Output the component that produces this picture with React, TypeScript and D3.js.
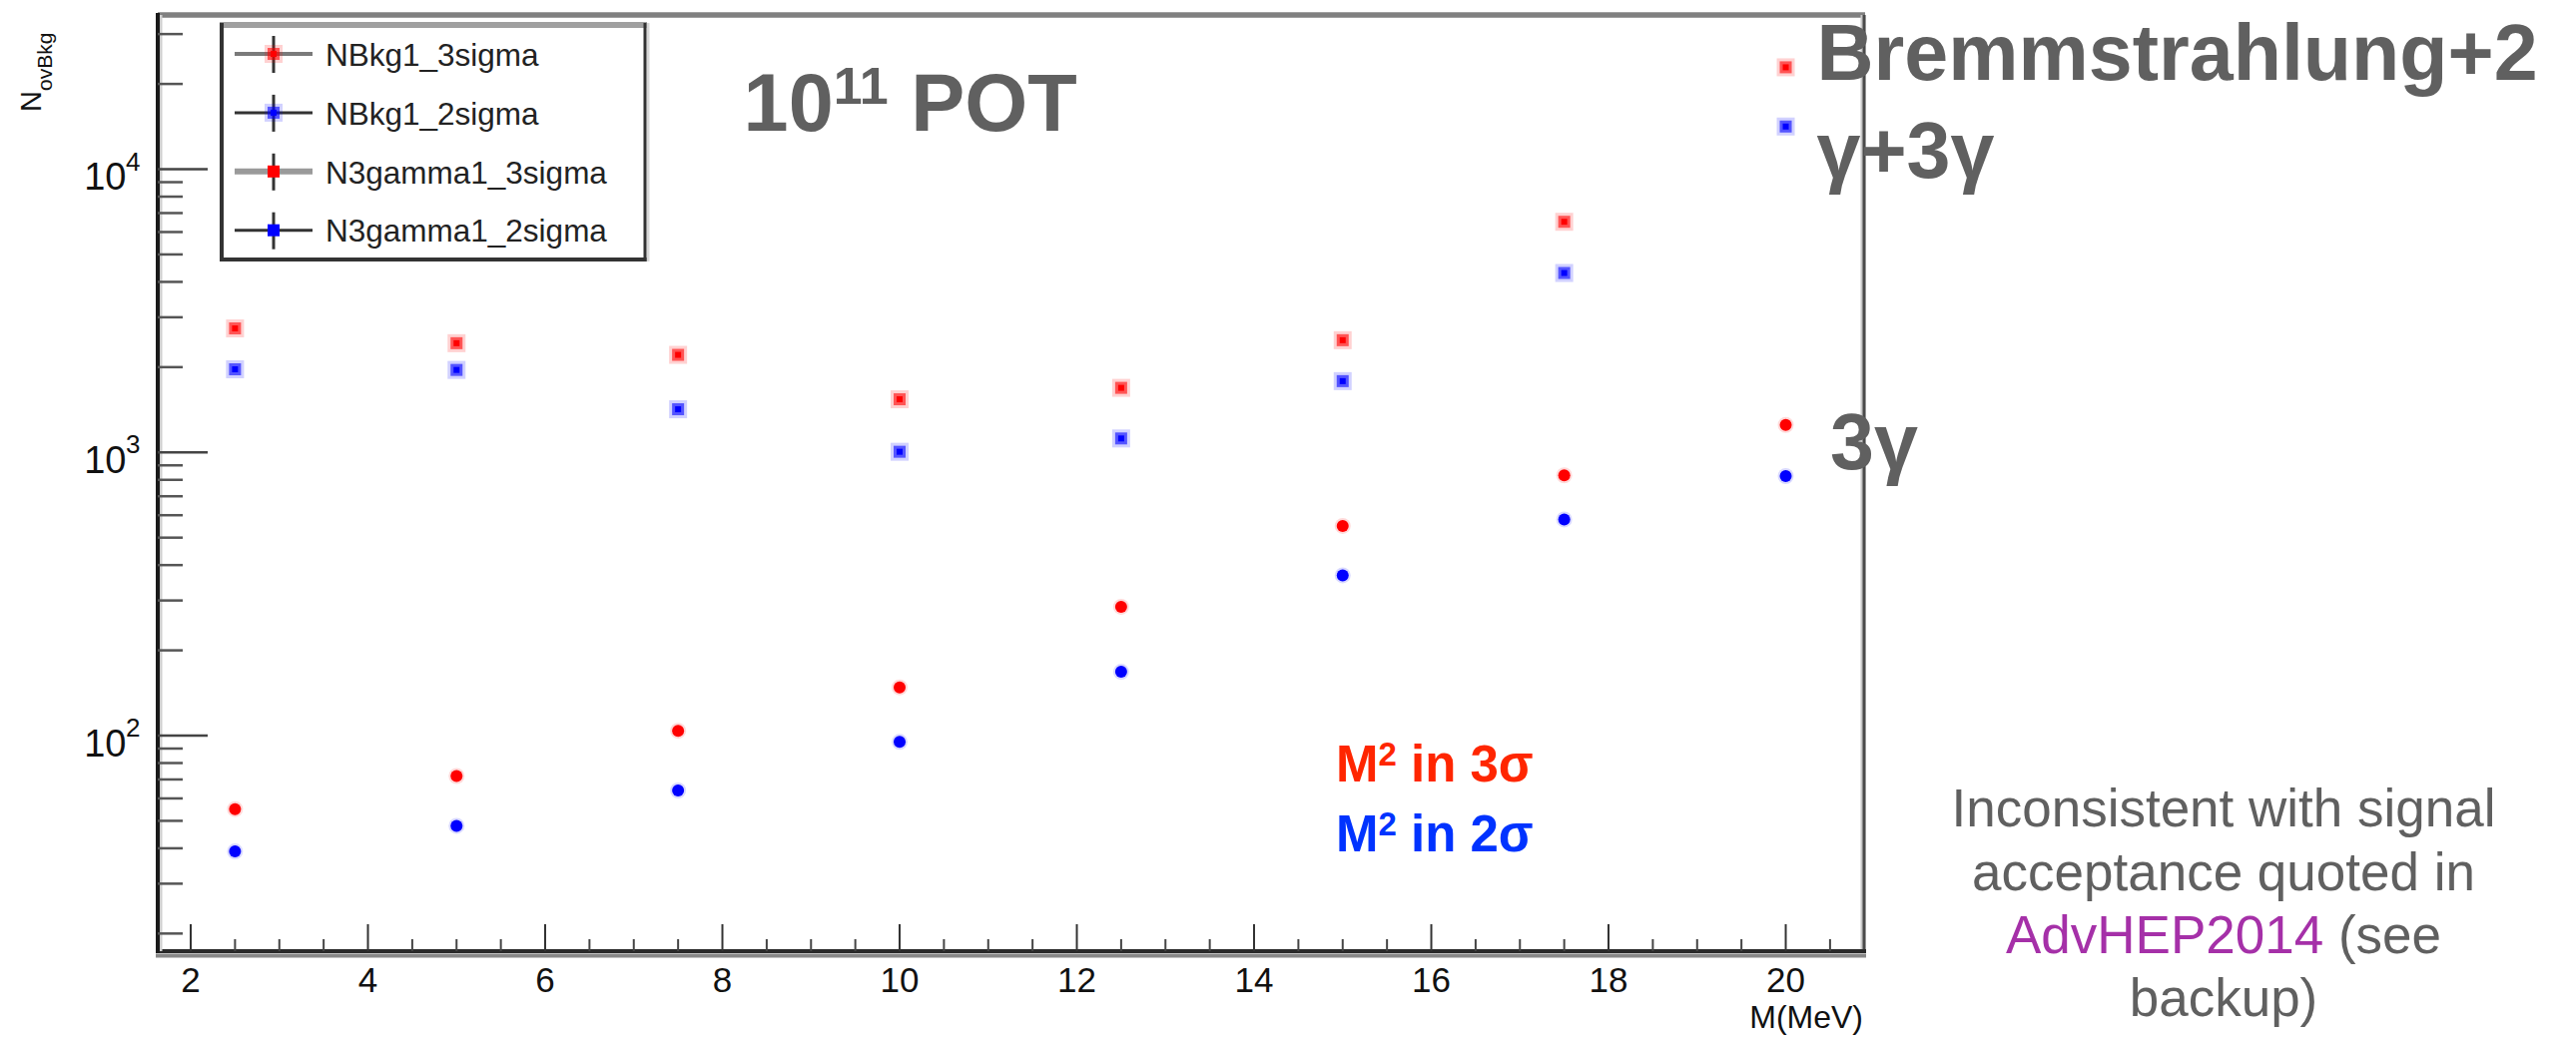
import React from 'react';
import * as d3 from 'd3';

// ---- data ----
const masses = [2.5, 5, 7.5, 10, 12.5, 15, 17.5, 20];
const nBkg3sigma = [2740, 2430, 2210, 1540, 1690, 2490, 6520, 22900];
const nBkg2sigma = [1965, 1955, 1420, 1005, 1120, 1785, 4300, 14150];
const n3gamma3sigma = [55, 72, 104, 148, 285, 550, 830, 1250];
const n3gamma2sigma = [39, 48, 64, 95, 168, 368, 580, 825];

const xMajorTicks = [2, 4, 6, 8, 10, 12, 14, 16, 18, 20];
const yDecadeExponents = [2, 3, 4];
const legendLabels = ['NBkg1_3sigma', 'NBkg1_2sigma', 'N3gamma1_3sigma', 'N3gamma1_2sigma'];
const xDomain = [1.628, 20.873];
const yDomain = [17.33, 35040];

const FONT = '"Liberation Sans", Arial, Helvetica, sans-serif';
const RED = '#ff0000';
const BLUE = '#0000ff';
const GRAY_TEXT = '#606060';

const W = 2580;
const H = 1039;
const plot = { left: 158, right: 1866, top: 15, bottom: 953 };

function HaloSquare({ x, y, color }: { x: number; y: number; color: string }) {
  return (
    <g>
      <rect x={x - 9} y={y - 9} width={18} height={18} fill={color} opacity={0.18} />
      <rect x={x - 6} y={y - 6} width={12} height={12} fill={color} opacity={0.6} />
      <rect x={x - 3} y={y - 3} width={6} height={6} fill={color} />
    </g>
  );
}

function Dot({ x, y, color }: { x: number; y: number; color: string }) {
  return (
    <g>
      <circle cx={x} cy={y} r={8} fill={color} opacity={0.15} />
      <circle cx={x} cy={y} r={6} fill={color} />
    </g>
  );
}

export default function App() {
  const xScale = d3.scaleLinear().domain(xDomain).range([plot.left, plot.right]);
  const yScale = d3.scaleLog().domain(yDomain).range([plot.bottom, plot.top]);

  const xMinor = d3.range(2, 20.51, 0.5).filter((v) => Math.abs(v % 2) > 1e-6);
  const yMinor: number[] = [];
  for (let k = 1; k <= 4; k++) {
    for (let m = 2; m <= 9; m++) {
      const v = m * Math.pow(10, k);
      if (v > yDomain[0] && v < yDomain[1]) yMinor.push(v);
    }
  }

  const legendTop = 54;
  const legendStep = 58.9;

  return (
    <svg
      width={W}
      height={H}
      viewBox={`0 0 ${W} ${H}`}
      style={{ position: 'absolute', left: 0, top: 0, background: '#fff' }}
      fontFamily={FONT}
    >
      <rect x={0} y={0} width={W} height={H} fill="#fff" />

      {/* frame */}
      <line x1={plot.left} x2={plot.right + 2} y1={plot.top} y2={plot.top} stroke="#808080" strokeWidth={5.5} />
      <line x1={plot.right} x2={plot.right} y1={plot.top} y2={plot.bottom} stroke="#c8c8c8" strokeWidth={5} />
      <line x1={plot.right + 1} x2={plot.right + 1} y1={plot.top} y2={plot.bottom} stroke="#4a4a4a" strokeWidth={3} />
      <line x1={plot.left - 2} x2={plot.right + 3} y1={plot.bottom + 4.5} y2={plot.bottom + 4.5} stroke="#888" strokeWidth={4} />
      <line x1={plot.left - 2} x2={plot.right + 3} y1={plot.bottom} y2={plot.bottom} stroke="#2a2a2a" strokeWidth={4} />
      <line x1={plot.left + 3} x2={plot.left + 3} y1={plot.top} y2={plot.bottom} stroke="#cfcfcf" strokeWidth={3} />
      <line x1={plot.left} x2={plot.left} y1={plot.top - 2} y2={plot.bottom + 2} stroke="#1a1a1a" strokeWidth={4} />

      {/* x ticks */}
      {xMajorTicks.map((t) => (
        <line key={'xM' + t} x1={xScale(t)} x2={xScale(t)} y1={plot.bottom} y2={plot.bottom - 27} stroke="#333" strokeWidth={2} />
      ))}
      {xMinor.map((t) => (
        <line key={'xm' + t} x1={xScale(t)} x2={xScale(t)} y1={plot.bottom} y2={plot.bottom - 12} stroke="#444" strokeWidth={2} />
      ))}
      {xMajorTicks.map((t) => (
        <text key={'xl' + t} x={xScale(t)} y={994} fontSize={35} textAnchor="middle" fill="#111">
          {t}
        </text>
      ))}
      <text x={plot.right} y={1030} fontSize={32} textAnchor="end" fill="#111">
        M(MeV)
      </text>

      {/* y ticks */}
      {yDecadeExponents.map((e) => (
        <line key={'yM' + e} x1={plot.left} x2={plot.left + 50} y1={yScale(Math.pow(10, e))} y2={yScale(Math.pow(10, e))} stroke="#444" strokeWidth={2.5} />
      ))}
      {yMinor.map((v) => (
        <line key={'ym' + v} x1={plot.left} x2={plot.left + 25} y1={yScale(v)} y2={yScale(v)} stroke="#555" strokeWidth={2.5} />
      ))}
      {yDecadeExponents.map((e) => (
        <text key={'yl' + e} x={126.5} y={yScale(Math.pow(10, e)) + 20.5} fontSize={38} textAnchor="end" fill="#111">
          10
        </text>
      ))}
      {yDecadeExponents.map((e) => (
        <text key={'ys' + e} x={126} y={yScale(Math.pow(10, e)) + 1} fontSize={26} textAnchor="start" fill="#111">
          {e}
        </text>
      ))}

      {/* y axis title */}
      <text transform="translate(41,112) rotate(-90)" fontSize={29} fill="#111">
        N
        <tspan fontSize={21} dy={11}>ovBkg</tspan>
      </text>

      {/* data */}
      {masses.map((m, i) => (
        <HaloSquare key={'b3' + i} x={xScale(m)} y={yScale(nBkg3sigma[i])} color={RED} />
      ))}
      {masses.map((m, i) => (
        <HaloSquare key={'b2' + i} x={xScale(m)} y={yScale(nBkg2sigma[i])} color={BLUE} />
      ))}
      {masses.map((m, i) => (
        <Dot key={'g3' + i} x={xScale(m)} y={yScale(n3gamma3sigma[i])} color={RED} />
      ))}
      {masses.map((m, i) => (
        <Dot key={'g2' + i} x={xScale(m)} y={yScale(n3gamma2sigma[i])} color={BLUE} />
      ))}

      {/* legend */}
      <g>
        <rect x={222} y={25} width={424} height={235} fill="#fff" />
        <line x1={220} x2={648} y1={25} y2={25} stroke="#a0a0a0" strokeWidth={6} />
        <line x1={222} x2={222} y1={23} y2={262} stroke="#333" strokeWidth={4} />
        <line x1={220} x2={648} y1={260} y2={260} stroke="#333" strokeWidth={4} />
        <line x1={649} x2={649} y1={23} y2={262} stroke="#d8d8d8" strokeWidth={3} />
        <line x1={646} x2={646} y1={23} y2={262} stroke="#333" strokeWidth={3} />
        {legendLabels.map((lab, i) => {
          const cy = legendTop + i * legendStep;
          const lineColors = ['#7a7a7a', '#333', '#9a9a9a', '#333'];
          const lineWidths = [4, 3, 6, 3];
          const color = i % 2 === 0 ? RED : BLUE;
          return (
            <g key={lab}>
              <line x1={235} x2={313} y1={cy} y2={cy} stroke={lineColors[i]} strokeWidth={lineWidths[i]} />
              <line x1={274} x2={274} y1={cy - 18} y2={cy + 19} stroke="#333" strokeWidth={3} />
              {i < 2 ? (
                <HaloSquare x={274} y={cy} color={color} />
              ) : (
                <rect x={268} y={cy - 6} width={12} height={12} fill={color} />
              )}
              <text x={326} y={cy + 11.7} fontSize={31.5} fill="#222">
                {lab}
              </text>
            </g>
          );
        })}
      </g>

      {/* annotations */}
      <text x={744.6} y={131} fontSize={81} fontWeight="bold" fill={GRAY_TEXT}>
        10
        <tspan fontSize={52} dy={-27}>11</tspan>
        <tspan dy={27}> POT</tspan>
      </text>

      <text x={1819.5} y={80} fontSize={79} fontWeight="bold" fill={GRAY_TEXT}>
        Bremmstrahlung+2
      </text>
      <text x={1819.5} y={178} fontSize={79} fontWeight="bold" fill={GRAY_TEXT}>
        γ+3γ
      </text>
      <text x={1833} y={470} fontSize={79} fontWeight="bold" fill={GRAY_TEXT}>
        3γ
      </text>

      <text x={1338} y={783} fontSize={51} fontWeight="bold" fill="#ff2600">
        M<tspan fontSize={33} dy={-16}>2</tspan>
        <tspan dy={16}> in 3σ</tspan>
      </text>
      <text x={1338} y={852.7} fontSize={51} fontWeight="bold" fill="#0033ff">
        M<tspan fontSize={33} dy={-16}>2</tspan>
        <tspan dy={16}> in 2σ</tspan>
      </text>

      <g fontSize={53} fill={GRAY_TEXT} textAnchor="middle">
        <text x={2227} y={828}>Inconsistent with signal</text>
        <text x={2227} y={891.7}>acceptance quoted in</text>
        <text x={2227} y={955}>
          <tspan fill="#a530a8">AdvHEP2014</tspan> (see
        </text>
        <text x={2227} y={1018}>backup)</text>
      </g>
    </svg>
  );
}
